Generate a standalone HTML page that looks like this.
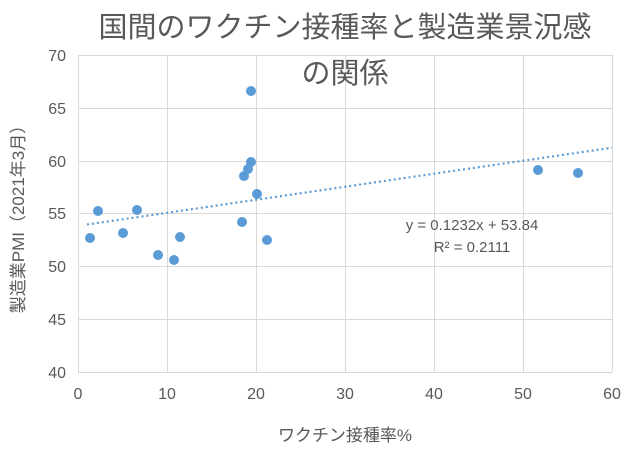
<!DOCTYPE html>
<html><head><meta charset="utf-8"><style>
body{margin:0;background:#fff;}
svg{display:block;font-family:"Liberation Sans","Noto Sans CJK JP",sans-serif;}
</style></head><body>
<svg width="640" height="454" viewBox="0 0 640 454">
<rect width="640" height="454" fill="#fff"/>
<g stroke="#d9d9d9" stroke-width="1">
<line x1="78" y1="55.5" x2="612" y2="55.5"/>
<line x1="78" y1="108.5" x2="612" y2="108.5"/>
<line x1="78" y1="161.5" x2="612" y2="161.5"/>
<line x1="78" y1="213.5" x2="612" y2="213.5"/>
<line x1="78" y1="266.5" x2="612" y2="266.5"/>
<line x1="78" y1="319.5" x2="612" y2="319.5"/>
<line x1="167.5" y1="55" x2="167.5" y2="372"/>
<line x1="256.5" y1="55" x2="256.5" y2="372"/>
<line x1="345.5" y1="55" x2="345.5" y2="372"/>
<line x1="434.5" y1="55" x2="434.5" y2="372"/>
<line x1="523.5" y1="55" x2="523.5" y2="372"/>
<line x1="612.5" y1="55" x2="612.5" y2="372"/>
<line x1="78.5" y1="55" x2="78.5" y2="372"/>
<line x1="78" y1="372.5" x2="612" y2="372.5"/>
</g>
<g fill="#595959" font-size="16" text-anchor="end">
<text x="66" y="61">70</text><text x="66" y="114">65</text><text x="66" y="167">60</text>
<text x="66" y="219">55</text><text x="66" y="272">50</text><text x="66" y="325">45</text><text x="66" y="378">40</text>
</g>
<g fill="#595959" font-size="16" text-anchor="middle">
<text x="78" y="399">0</text><text x="167" y="399">10</text><text x="256" y="399">20</text>
<text x="345" y="399">30</text><text x="434" y="399">40</text><text x="523" y="399">50</text><text x="612" y="399">60</text>
</g>
<line x1="87" y1="224.5" x2="612" y2="147.7" stroke="#5b9bd5" stroke-width="2.2" stroke-dasharray="2,3"/>
<g fill="#5b9bd5">
<circle cx="90" cy="238" r="5"/><circle cx="98" cy="211" r="5"/><circle cx="123" cy="233" r="5"/>
<circle cx="137" cy="210" r="5"/><circle cx="158" cy="255" r="5"/><circle cx="174" cy="260" r="5"/>
<circle cx="180" cy="237" r="5"/><circle cx="242" cy="222" r="5"/><circle cx="244" cy="176" r="5"/>
<circle cx="248" cy="169" r="5"/><circle cx="251" cy="91" r="5"/><circle cx="251" cy="162" r="5"/>
<circle cx="257" cy="194" r="5"/><circle cx="267" cy="240" r="5"/><circle cx="538" cy="170" r="5"/>
<circle cx="578" cy="173" r="5"/>
</g>
<text x="472" y="230" fill="#595959" font-size="15" text-anchor="middle">y = 0.1232x + 53.84</text>
<text x="472" y="252" fill="#595959" font-size="15" text-anchor="middle">R² = 0.2111</text>
<text x="345" y="37" fill="#595959" font-size="29" text-anchor="middle">国間のワクチン接種率と製造業景況感</text>
<text x="345" y="83" fill="#595959" font-size="29" text-anchor="middle">の関係</text>
<text x="345" y="441" fill="#595959" font-size="17" text-anchor="middle">ワクチン接種率%</text>
<text transform="translate(24,215) rotate(-90)" fill="#595959" font-size="17" text-anchor="middle">製造業PMI（2021年3月）</text>
</svg>
</body></html>
